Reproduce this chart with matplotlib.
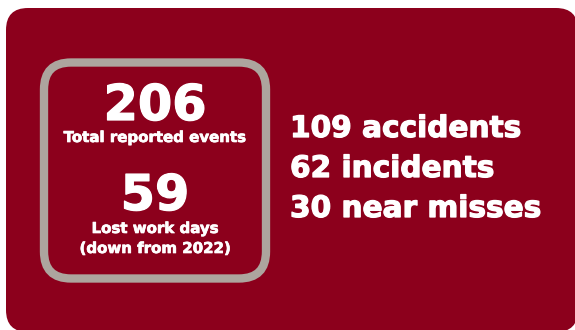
import matplotlib
matplotlib.use("Agg")
import matplotlib.pyplot as plt
from matplotlib.patches import FancyBboxPatch
import matplotlib.patheffects as pe

# Data
headline_values = [206, 59]
headline_labels = [["Total reported events"], ["Lost work days", "(down from 2022)"]]
breakdown_counts = [109, 62, 30]
breakdown_labels = ["accidents", "incidents", "near misses"]

BG = "#8C001C"
BORDER = "#ADA59E"
FONT = "DejaVu Sans"
heavy = [pe.withStroke(linewidth=0.9, foreground="white")]
heavy_small = [pe.withStroke(linewidth=0.5, foreground="white")]

fig = plt.figure(figsize=(5.75, 3.3), dpi=100)
fig.patch.set_facecolor("white")
ax = fig.add_axes([0, 0, 1, 1])
ax.set_xlim(0, 575)
ax.set_ylim(330, 0)
ax.axis("off")

# outer card
r = 22
ax.add_patch(FancyBboxPatch((6 + r, 8 + r), 572 - 2 * r, 324 - 2 * r,
                            boxstyle=f"round,pad={r}", fc=BG, ec="none"))
# inner bordered box
r2 = 27
x0, y0, x1, y1 = 44, 62.5, 266, 278.5
ax.add_patch(FancyBboxPatch((x0 + r2, y0 + r2), (x1 - x0) - 2 * r2, (y1 - y0) - 2 * r2,
                            boxstyle=f"round,pad={r2}", fc="none", ec=BORDER, lw=6))

cx = 155
big_y = [120, 210]
lab_y = [142, 233]
line_gap = 20
for v, lines, by, ly in zip(headline_values, headline_labels, big_y, lab_y):
    ax.text(cx, by, str(v), ha="center", va="baseline", color="white",
            fontsize=35.5, fontweight="bold", family=FONT, path_effects=heavy)
    for i, ln in enumerate(lines):
        ax.text(cx, ly + i * line_gap, ln, ha="center", va="baseline", color="white",
                fontsize=10.8, fontweight="bold", family=FONT, path_effects=heavy_small)

row_y = [137, 177, 217]
for c, lab, y in zip(breakdown_counts, breakdown_labels, row_y):
    ax.text(290, y, f"{c} {lab}", ha="left", va="baseline", color="white",
            fontsize=21.3, fontweight="bold", family=FONT, path_effects=heavy)

fig.savefig("out.png", dpi=100, facecolor="white")
